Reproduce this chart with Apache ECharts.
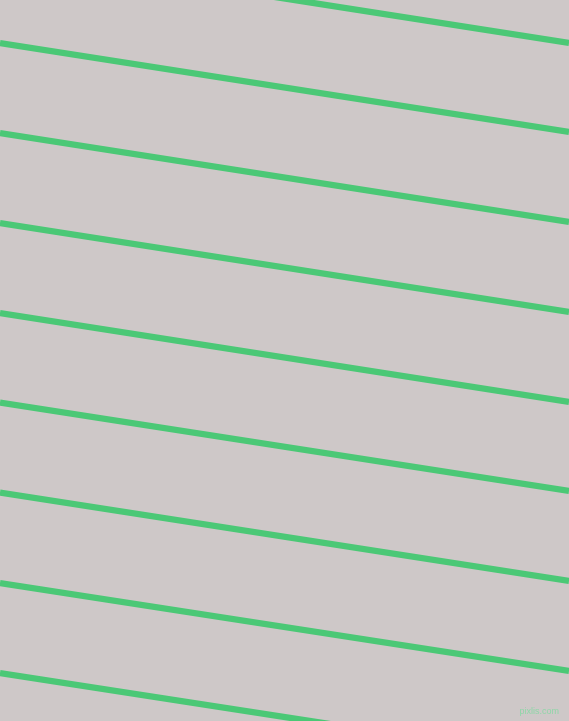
<!DOCTYPE html>
<html>
<head>
<meta charset="utf-8">
<script src="https://cdn.jsdelivr.net/npm/echarts@6/dist/echarts.min.js"></script>
<style>
  html, body { margin: 0; padding: 0; background: #cec8c8; }
  #chart { width: 569px; height: 721px; }
</style>
</head>
<body>
<div id="chart"></div>
<script>
// stripe ends, in pixel units of the picture (x across, y down)
var xEnds = [0, 569];
var stripeLeftY = [-46, 43, 133, 223, 313, 402.5, 492.5, 583, 673];
var stripeRightY = [43, 132, 222, 312, 402, 491, 581, 671, 761];
var watermark = 'pixlis.com';

var myChart = echarts.init(document.getElementById('chart'));

var series = [];
for (var i = 0; i < stripeLeftY.length; i++) {
    series.push({
        type: 'line',
        data: [[xEnds[0], stripeLeftY[i]], [xEnds[1], stripeRightY[i]]],
        symbol: 'none',
        clip: true,
        silent: true,
        lineStyle: {
            color: '#4bc876',
            width: 6.3
        }
    });
}

var option = {
    backgroundColor: '#cec8c8',
    animation: false,
    grid: {
        top: 0,
        left: 0,
        right: 0,
        bottom: 0
    },
    xAxis: {
        type: 'value',
        min: 0,
        max: 569,
        show: false
    },
    yAxis: {
        type: 'value',
        min: 0,
        max: 721,
        inverse: true,
        show: false
    },
    graphic: [{
        type: 'text',
        right: 10,
        bottom: 5,
        style: {
            text: watermark,
            fill: '#8fd6a8',
            font: '9px "Liberation Sans"'
        }
    }],
    series: series
};
myChart.setOption(option);
</script>
</body>
</html>
